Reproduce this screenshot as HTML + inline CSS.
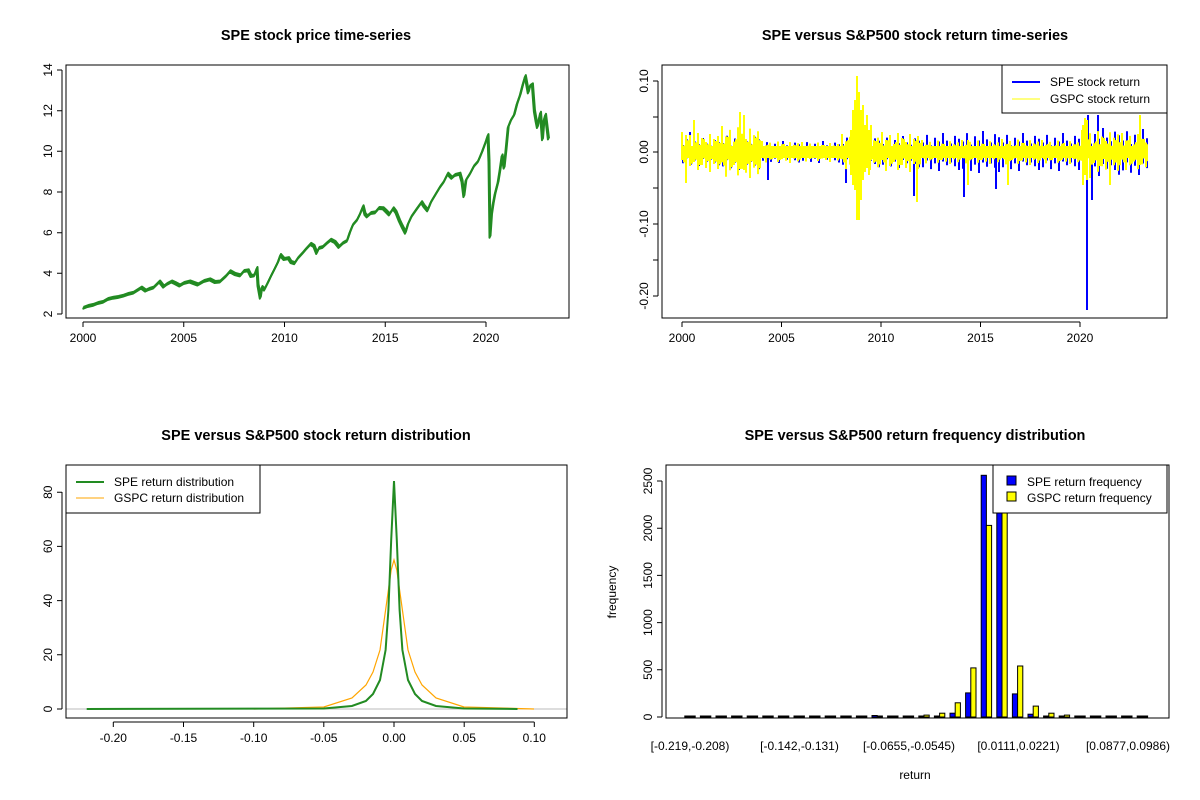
<!DOCTYPE html>
<html><head><meta charset="utf-8"><style>
body{margin:0;background:#fff}
svg{display:block;font-family:"Liberation Sans",Arial,sans-serif}
</style></head><body>
<svg width="1200" height="800" xmlns="http://www.w3.org/2000/svg" xmlns:xlink="http://www.w3.org/1999/xlink">
<defs>
<g id="u" fill="none" stroke-width="2">
<path vector-effect="non-scaling-stroke" d="M0,-1V0.4 M4,-0.6V0.95 M8,-0.85V0.7 M12,-0.4V0.5 M16,-0.95V0.9 M20,-0.7V0.65 M24,-0.5V0.8 M28,-0.9V1 M32,-0.65V0.6 M36,-0.8V0.85"/>
</g>
<g id="u2" fill="none" stroke-width="2">
<path vector-effect="non-scaling-stroke" d="M0,-0.5V0.8 M4,-0.9V0.45 M8,-0.35V0.9 M12,-0.75V0.6 M16,-0.55V1 M20,-1V0.5 M24,-0.6V0.7 M28,-0.45V0.55 M32,-0.85V0.75 M36,-0.7V0.95"/>
</g>
<clipPath id="cp"><rect x="680" y="60" width="468" height="260"/></clipPath>
</defs>
<rect width="1200" height="800" fill="#fff"/>
<g font-weight="bold" font-size="14.5" text-anchor="middle">
<text x="316" y="40">SPE stock price time-series</text>
<text x="915" y="40">SPE versus S&amp;P500 stock return time-series</text>
<text x="316" y="440">SPE versus S&amp;P500 stock return distribution</text>
<text x="915" y="440">SPE versus S&amp;P500 return frequency distribution</text>
</g>

<!-- price series -->
<g fill="none" stroke="#228B22" stroke-linejoin="round">
<path id="pp" stroke-width="2" d="M83,307.9 L88,306 L93.1,304.9 L98,303 L103.2,301.8 L108,299 L113.2,297.7 L118,297 L123.3,295.7 L128,294 L133.4,292.7 L141.4,287.6 L145.5,290.6 L149,289 L153.5,287.6 L159.6,281.5 L163.6,286.6 L167,284 L171.7,281.5 L175,283 L179.7,285.5 L184,283 L189.8,281.5 L197.9,284.5 L204,281 L209.9,279.4 L215,282 L220,281.5 L226,276 L230.1,271.3 L235,274 L240.2,275.4 L244,271 L248.2,270.3 L251,276 L254.3,275.4 L257,268 L258,285 L260.3,297.7 L262,287 L264.4,289.6 L268.4,281.5 L271,276 L274.4,269.3 L278,262 L280.5,255 L284,259 L288.5,258.1 L291,262 L294.6,263.2 L298,258 L302.6,253 L306,249 L310.7,243.9 L314,246 L316.7,253 L319,248 L322.8,246.9 L327,243 L330.8,239.8 L335,242 L338.9,246.9 L343,243 L347,240.8 L350,232 L353,224.6 L357,220 L360,214 L363.1,206.3 L365,214 L367.1,216.4 L371,213 L375.2,212.4 L379,208 L383.2,208.3 L386,211 L389.3,214.4 L393.3,208.3 L396,212 L399.4,220.5 L402,226 L405.4,232.7 L408,224 L411.5,216.4 L416,210 L421.6,202.2 L424,206 L427.6,210.3 L431,202 L435.7,194.1 L440,187 L443.7,181.9 L447.8,173.7 L451.8,177.8 L455,175 L459.9,173.7 L462,181 L463.9,196.1 L466,180 L470,173.7 L474,166 L478,161.5 L482,152 L486,141.2 L488,135.1 L489,161.5 L490,236.7 L491.5,215 L493.1,204.2 L495,194 L498.1,181.9 L500,170 L502.1,155.4 L504.1,167.6 L506,150 L508.2,127 L511,120 L514.2,114.8 L517,104 L520.3,94.4 L523,84 L525.3,76.1 L528.3,92.4 L530,86 L532.4,84.3 L534.4,110.7 L536,120 L537.4,127 L540.5,112.7 L542.5,139.2 L544,120 L545.5,114.8 L547,127 L548.5,139.2"/>
<use xlink:href="#pp" href="#pp" transform="translate(0.5,-1)" stroke-width="1"/>
<use xlink:href="#pp" href="#pp" transform="translate(-0.5,1)" stroke-width="1"/>
</g>

<!-- returns -->
<g clip-path="url(#cp)">
<g stroke="#0000ff">
<use href="#u2" xlink:href="#u2" transform="translate(683,152) scale(1,14)"/>
<use href="#u2" xlink:href="#u2" transform="translate(723,152) scale(1,18)"/>
<use href="#u2" xlink:href="#u2" transform="translate(763,152) scale(1,11)"/>
<use href="#u2" xlink:href="#u2" transform="translate(803,152) scale(1,11)"/>
<use href="#u2" xlink:href="#u2" transform="translate(843,152) scale(1,16)"/>
<use href="#u2" xlink:href="#u2" transform="translate(883,152) scale(1,16)"/>
<use href="#u2" xlink:href="#u2" transform="translate(923,152) scale(1,19)"/>
<use href="#u2" xlink:href="#u2" transform="translate(963,152) scale(1,21)"/>
<use href="#u2" xlink:href="#u2" transform="translate(1003,152) scale(1,19)"/>
<use href="#u2" xlink:href="#u2" transform="translate(1043,152) scale(1,19)"/>
<use href="#u2" xlink:href="#u2" transform="translate(1083,152) scale(1,24)"/>
<use href="#u2" xlink:href="#u2" transform="translate(1123,152) scale(1,23)"/>
<path stroke-width="2" d="M768,152V180 M846,152V183 M858,152V92 M914,152V196 M964,152V197 M996,152V189 M1087,152V310 M1088,152V115 M1092,152V200 M1098,152V115 M690,152V132 M1140,152V135"/>
</g>
<rect x="682" y="146" width="465" height="12" fill="#ffff00"/>
<g stroke="#ffff00">
<use href="#u" xlink:href="#u" transform="translate(682,152) scale(1,20)"/>
<use href="#u" xlink:href="#u" transform="translate(722,152) scale(1,26)"/>
<use href="#u" xlink:href="#u" transform="translate(762,152) scale(1,11)"/>
<use href="#u" xlink:href="#u" transform="translate(802,152) scale(1,10)"/>
<use href="#u" xlink:href="#u" transform="translate(842,152) scale(1,18)"/>
<use href="#u" xlink:href="#u" transform="translate(882,152) scale(1,20)"/>
<use href="#u" xlink:href="#u" transform="translate(922,152) scale(1,12)"/>
<use href="#u" xlink:href="#u" transform="translate(962,152) scale(1,12)"/>
<use href="#u" xlink:href="#u" transform="translate(1002,152) scale(1,13)"/>
<use href="#u" xlink:href="#u" transform="translate(1042,152) scale(1,12)"/>
<use href="#u" xlink:href="#u" transform="translate(1082,152) scale(1,22)"/>
<use href="#u" xlink:href="#u" transform="translate(1122,152) scale(1,19)"/>
<use href="#u2" xlink:href="#u2" transform="translate(684,152) scale(1,13)"/>
<use href="#u2" xlink:href="#u2" transform="translate(724,152) scale(1,17)"/>
<use href="#u2" xlink:href="#u2" transform="translate(764,152) scale(1,8)"/>
<use href="#u2" xlink:href="#u2" transform="translate(804,152) scale(1,7)"/>
<use href="#u2" xlink:href="#u2" transform="translate(844,152) scale(1,13)"/>
<use href="#u2" xlink:href="#u2" transform="translate(884,152) scale(1,13)"/>
<use href="#u2" xlink:href="#u2" transform="translate(924,152) scale(1,8)"/>
<use href="#u2" xlink:href="#u2" transform="translate(964,152) scale(1,8)"/>
<use href="#u2" xlink:href="#u2" transform="translate(1004,152) scale(1,9)"/>
<use href="#u2" xlink:href="#u2" transform="translate(1044,152) scale(1,9)"/>
<use href="#u2" xlink:href="#u2" transform="translate(1084,152) scale(1,14)"/>
<use href="#u2" xlink:href="#u2" transform="translate(1124,152) scale(1,13)"/>
<path stroke-width="2" fill="none" d="M851,130V175 M853,110V185 M855,100V190 M857,76V220 M859,92V220 M861,110V200 M863,105V180 M865,125V172 M867,115V168 M869,130V175 M871,125V160 M1083,125V185 M1085,118V175 M1087,120V180 M1090,135V178 M1140,115V160 M686,135V183 M694,120V160 M740,112V165 M744,115V170 M1008,150V185 M917,140V202 M968,140V185 M1110,150V185"/>
</g>
</g>

<!-- densities -->
<line x1="66" y1="709" x2="567" y2="709" stroke="#bbb"/>
<path fill="none" stroke="#ffa500" stroke-width="1.2" d="M253.7,709 L323.8,707 L352,698 L366,685 L373,672 L380,650 L387,600 L391.2,570 L394,560 L396.8,570 L401,600 L408,650 L415,672 L422,685 L436,698 L464,707 L534,709"/>
<path fill="none" stroke="#228B22" stroke-width="2" d="M86.7,709 L323.8,708.5 L351.9,706 L365.9,701 L373,694 L380,680 L385.6,650 L388.4,610 L391.2,540 L394,481 L396.8,540 L399.6,610 L402.4,650 L408,680 L415,694 L422,701 L436,706 L464,708.5 L517.5,709"/>

<!-- histogram -->
<g stroke="#000" stroke-width="1">
<g fill="#0000ff">
<rect x="684.8" y="716" width="5.2" height="1"/><rect x="700.4" y="716" width="5.2" height="1"/><rect x="716" y="716" width="5.2" height="1"/><rect x="731.6" y="716" width="5.2" height="1"/><rect x="747.2" y="716" width="5.2" height="1"/><rect x="762.8" y="716" width="5.2" height="1"/><rect x="778.4" y="716" width="5.2" height="1"/><rect x="794" y="716" width="5.2" height="1"/><rect x="809.6" y="716" width="5.2" height="1"/><rect x="825.2" y="716" width="5.2" height="1"/><rect x="840.8" y="716" width="5.2" height="1"/><rect x="856.4" y="716" width="5.2" height="1"/><rect x="872" y="715.5" width="5.2" height="1.5"/><rect x="887.6" y="716" width="5.2" height="1"/><rect x="903.2" y="716" width="5.2" height="1"/>
<rect x="918.8" y="716" width="5.2" height="1"/><rect x="934.4" y="716" width="5.2" height="1"/><rect x="950" y="713.2" width="5.2" height="3.8"/><rect x="965.6" y="692.9" width="5.2" height="24.1"/><rect x="981.2" y="475.3" width="5.2" height="241.7"/><rect x="996.8" y="504.6" width="5.2" height="212.4"/><rect x="1012.4" y="693.9" width="5.2" height="23.1"/><rect x="1028" y="714.2" width="5.2" height="2.8"/><rect x="1043.6" y="716" width="5.2" height="1"/><rect x="1059.2" y="716" width="5.2" height="1"/><rect x="1074.8" y="716" width="5.2" height="1"/><rect x="1090.4" y="716" width="5.2" height="1"/><rect x="1106" y="716" width="5.2" height="1"/><rect x="1121.6" y="716" width="5.2" height="1"/><rect x="1137.2" y="716" width="5.2" height="1"/>
</g>
<g fill="#ffff00">
<rect x="690" y="716" width="5.2" height="1"/><rect x="705.6" y="716" width="5.2" height="1"/><rect x="721.2" y="716" width="5.2" height="1"/><rect x="736.8" y="716" width="5.2" height="1"/><rect x="752.4" y="716" width="5.2" height="1"/><rect x="768" y="716" width="5.2" height="1"/><rect x="783.6" y="716" width="5.2" height="1"/><rect x="799.2" y="716" width="5.2" height="1"/><rect x="814.8" y="716" width="5.2" height="1"/><rect x="830.4" y="716" width="5.2" height="1"/><rect x="846" y="716" width="5.2" height="1"/><rect x="861.6" y="716" width="5.2" height="1"/><rect x="877.2" y="716" width="5.2" height="1"/><rect x="892.8" y="716" width="5.2" height="1"/><rect x="908.4" y="716" width="5.2" height="1"/>
<rect x="924" y="715.1" width="5.2" height="1.9"/><rect x="939.6" y="713.2" width="5.2" height="3.8"/><rect x="955.2" y="702.8" width="5.2" height="14.2"/><rect x="970.8" y="667.9" width="5.2" height="49.1"/><rect x="986.4" y="525.4" width="5.2" height="191.6"/><rect x="1002" y="495.2" width="5.2" height="221.8"/><rect x="1017.6" y="666" width="5.2" height="51"/><rect x="1033.2" y="706.1" width="5.2" height="10.9"/><rect x="1048.8" y="713.2" width="5.2" height="3.8"/><rect x="1064.4" y="715.1" width="5.2" height="1.9"/><rect x="1080" y="716" width="5.2" height="1"/><rect x="1095.6" y="716" width="5.2" height="1"/><rect x="1111.2" y="716" width="5.2" height="1"/><rect x="1126.8" y="716" width="5.2" height="1"/><rect x="1142.4" y="716" width="5.2" height="1"/>
</g>
</g>

<!-- boxes -->
<g fill="none" stroke="#000">
<rect x="66" y="65" width="503" height="253"/>
<rect x="662" y="65" width="505" height="253"/>
<rect x="66" y="465" width="501" height="253"/>
<rect x="666" y="465" width="503" height="253"/>
</g>

<!-- axes -->
<g stroke="#000" fill="none">
<path d="M62,70V314 M57,314H62 M57,273.3H62 M57,232.7H62 M57,192H62 M57,151.3H62 M57,110.7H62 M57,70H62"/>
<path d="M83,322H486 M83,322V327 M183.75,322V327 M284.5,322V327 M385.25,322V327 M486,322V327"/>
<path d="M658,81V296 M653,81H658 M653,117H658 M653,152H658 M653,188H658 M653,224H658 M653,260H658 M653,296H658"/>
<path d="M682,322H1080 M682,322V327 M781.5,322V327 M881,322V327 M980.5,322V327 M1080,322V327"/>
<path d="M62,492V709 M57,709H62 M57,654.8H62 M57,600.6H62 M57,546.4H62 M57,492.2H62"/>
<path d="M113.3,722H534.3 M113.3,722V727 M183.5,722V727 M253.7,722V727 M323.8,722V727 M394,722V727 M464.2,722V727 M534.3,722V727"/>
<path d="M662,481V717 M657,717H662 M657,669.8H662 M657,622.6H662 M657,575.4H662 M657,528.2H662 M657,481H662"/>
</g>
<g font-size="12" text-anchor="middle">
<text transform="translate(52,314) rotate(-90)">2</text>
<text transform="translate(52,273.3) rotate(-90)">4</text>
<text transform="translate(52,232.7) rotate(-90)">6</text>
<text transform="translate(52,192) rotate(-90)">8</text>
<text transform="translate(52,151.3) rotate(-90)">10</text>
<text transform="translate(52,110.7) rotate(-90)">12</text>
<text transform="translate(52,70) rotate(-90)">14</text>
<text x="83" y="342">2000</text><text x="183.75" y="342">2005</text><text x="284.5" y="342">2010</text><text x="385.25" y="342">2015</text><text x="486" y="342">2020</text>
<text transform="translate(648,81) rotate(-90)">0.10</text>
<text transform="translate(648,152) rotate(-90)">0.00</text>
<text transform="translate(648,224) rotate(-90)">-0.10</text>
<text transform="translate(648,296) rotate(-90)">-0.20</text>
<text x="682" y="342">2000</text><text x="781.5" y="342">2005</text><text x="881" y="342">2010</text><text x="980.5" y="342">2015</text><text x="1080" y="342">2020</text>
<text transform="translate(52,709) rotate(-90)">0</text>
<text transform="translate(52,654.8) rotate(-90)">20</text>
<text transform="translate(52,600.6) rotate(-90)">40</text>
<text transform="translate(52,546.4) rotate(-90)">60</text>
<text transform="translate(52,492.2) rotate(-90)">80</text>
<text x="113.3" y="742">-0.20</text><text x="183.5" y="742">-0.15</text><text x="253.7" y="742">-0.10</text><text x="323.8" y="742">-0.05</text><text x="394" y="742">0.00</text><text x="464.2" y="742">0.05</text><text x="534.3" y="742">0.10</text>
<text transform="translate(652,717) rotate(-90)">0</text>
<text transform="translate(652,669.8) rotate(-90)">500</text>
<text transform="translate(652,622.6) rotate(-90)">1000</text>
<text transform="translate(652,575.4) rotate(-90)">1500</text>
<text transform="translate(652,528.2) rotate(-90)">2000</text>
<text transform="translate(652,481) rotate(-90)">2500</text>
<text x="690" y="750">[-0.219,-0.208)</text>
<text x="799.5" y="750">[-0.142,-0.131)</text>
<text x="909" y="750">[-0.0655,-0.0545)</text>
<text x="1018.5" y="750">[0.0111,0.0221)</text>
<text x="1128" y="750">[0.0877,0.0986)</text>
<text x="915" y="779">return</text>
<text transform="translate(616,592) rotate(-90)">frequency</text>
</g>

<!-- legends -->
<g font-size="12">
<rect x="1002" y="65" width="165" height="48" fill="#fff" stroke="#000"/>
<line x1="1012" y1="82" x2="1040" y2="82" stroke="#00f" stroke-width="2"/>
<line x1="1012" y1="99" x2="1040" y2="99" stroke="#ffff00"/>
<text x="1050" y="86">SPE stock return</text><text x="1050" y="103">GSPC stock return</text>
<rect x="66" y="465" width="194" height="48" fill="#fff" stroke="#000"/>
<line x1="76" y1="482" x2="104" y2="482" stroke="#228B22" stroke-width="2"/>
<line x1="76" y1="498" x2="104" y2="498" stroke="#ffa500"/>
<text x="114" y="486">SPE return distribution</text><text x="114" y="502">GSPC return distribution</text>
<rect x="993" y="465" width="174" height="48" fill="#fff" stroke="#000"/>
<rect x="1007" y="476" width="9" height="9" fill="#0000ff" stroke="#000"/>
<rect x="1007" y="492" width="9" height="9" fill="#ffff00" stroke="#000"/>
<text x="1027" y="486">SPE return frequency</text>
<text x="1027" y="502">GSPC return frequency</text>
</g>
</svg>
</body></html>
